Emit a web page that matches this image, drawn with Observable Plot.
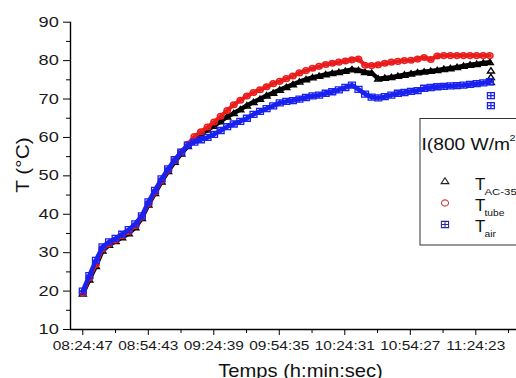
<!DOCTYPE html>
<html><head><meta charset="utf-8">
<script src="https://cdn.jsdelivr.net/npm/d3@7"></script>
<script src="https://cdn.jsdelivr.net/npm/@observablehq/plot@0.6"></script>
<style>body{margin:0;background:#fff;} #chart{width:516px;height:378px;overflow:hidden;position:relative;background:#fff}</style>
</head><body><div id="chart"></div>
<script>
// ---- data ----
const startTime = "08:24:47";
const minutes = [0,3,6,9,12,15,18,21,24,27,30,33,36,39,42,45,48,51,54,57,60,63,66,69,72,75,78,81,84,87,90,93,96,99,102,105,108,111,114,117,120,123,126,129,132,135,138,141,144,147,150,153,156,159,162,165,168,171,174,177,180,183,186];
const tAC35 = [19.3,23,26.5,30.5,32,33,34,35,36.6,39,42.5,45.5,48.5,51.2,53.6,55.8,57.7,59.3,60.8,62,63,64.2,65.4,66.3,67.3,68.3,69.2,70,70.9,71.6,72.4,73.1,73.8,74.5,75.1,75.6,76,76.4,76.7,77,77.3,77.7,77.5,77,76.8,75.3,75.5,75.7,76,76.3,76.6,76.9,77.1,77.3,77.5,77.8,78,78.3,78.6,78.9,79.1,79.4,79.6];
const tTube = [19.5,23.5,27,31,32.3,33.3,34.4,35.5,37,39.3,42.8,45.8,48.8,51.5,54,56.2,58.2,60.2,61.5,62.7,64,65.5,67,68.5,69.7,70.8,71.7,72.4,73.2,74,74.6,75.3,76,76.8,77.4,78,78.5,79,79.3,79.6,79.9,80.2,80.4,78.8,78.7,78.9,79.3,79.6,79.8,80,80.1,80.4,80.8,80.3,81.2,81.3,81.3,81.3,81.3,81.3,81.3,81.3,81.3];
const tAir = [20,24,28,31.5,32.8,33.7,34.8,36,37.5,39.6,43.2,46.2,49.2,51.8,54.2,56.2,58,58.8,59.4,60,60.8,61.8,62.8,63.5,64.2,65,66,66.8,67.5,68.2,69,69.4,69.6,70,70.4,70.8,71,71.5,71.9,72.4,73,73.6,72.5,71.3,70.5,70.3,70.6,71,71.5,71.7,72,72.2,72.8,73,73.2,73.3,73.4,73.5,73.6,73.8,74,74.2,74.5];
const endMinute = 186.5;
const tAC35End = [77.4, 75.7, 74.4];
const tAirEnd = [70.9, 68.3];
const xTickLabels = ["08:24:47","08:54:43","09:24:39","09:54:35","10:24:31","10:54:27","11:24:23"];
const yTicks = [10,20,30,40,50,60,70,80,90];
const yMinorTicks = [15,25,35,45,55,65,75,85];
const seriesSubs = ["AC-35","tube","air"];
const legendTitle = "I(800 W/m";
const xTitle = "Temps (h:min:sec)";
const yTitle = "T (°C)";

// ---- helpers ----
const toDate = hms => { const [h,m,s] = hms.split(":").map(Number); return new Date(Date.UTC(1970,0,1,h,m,s)); };
const start = toDate(startTime);
const atMin = m => new Date(+start + m*60000);
const rows = (vals, mins) => vals.map((v,i) => ({time: atMin(mins[i]), T: v}));
const lineAC = rows(tAC35, minutes), lineTube = rows(tTube, minutes), lineAir = rows(tAir, minutes);
const dataAC = lineAC.concat(tAC35End.map(v => ({time: atMin(endMinute), T: v})));
const dataTube = lineTube;
const dataAir = lineAir.concat(tAirEnd.map(v => ({time: atMin(endMinute), T: v})));
const majorTicks = xTickLabels.map(toDate);
const minorTicks = majorTicks.map(d => new Date(+d + 898000));
const xDomain = [new Date(+start - 337000), new Date(+start + 11892000)];

const triUp = {draw(ctx, size){ const s = Math.sqrt(size/Math.PI); ctx.moveTo(0,-s*1.05); ctx.lineTo(s*1.25,s*0.85); ctx.lineTo(-s*1.25,s*0.85); ctx.closePath(); }};
const ellipse = {draw(ctx, size){ const s = Math.sqrt(size/Math.PI), a = s*1.15, b = s, k = 0.5523;
  ctx.moveTo(a,0); ctx.bezierCurveTo(a,b*k,a*k,b,0,b); ctx.bezierCurveTo(-a*k,b,-a,b*k,-a,0);
  ctx.bezierCurveTo(-a,-b*k,-a*k,-b,0,-b); ctx.bezierCurveTo(a*k,-b,a,-b*k,a,0); ctx.closePath(); }};
const sqCross = {draw(ctx, size){ const s = Math.sqrt(size/Math.PI), a = s*1.15, b = s;
  ctx.moveTo(-a,-b); ctx.lineTo(a,-b); ctx.lineTo(a,b); ctx.lineTo(-a,b); ctx.closePath();
  ctx.moveTo(0,-b); ctx.lineTo(0,b); ctx.moveTo(-a,0); ctx.lineTo(a,0); }};

const RED = "#ea1c1c", BLUE = "#1a22f0", BLACK = "#000";
const fmt = d3.utcFormat("%H:%M:%S");

const plot = Plot.plot({
  width: 516, height: 378,
  marginLeft: 70, marginRight: 0, marginTop: 21.7, marginBottom: 49,
  style: {fontFamily: "'Liberation Sans', Arial, sans-serif", fontSize: "13px", color: "#1a1a1a", background: "#fff"},
  x: {type: "utc", domain: xDomain},
  y: {domain: [10, 90]},
  marks: [
    Plot.axisY(yTicks, {tickSize: 7, tickPadding: 4.7, fontSize: 14, label: null, stroke: BLACK}),
    Plot.axisY(yMinorTicks, {tickSize: 4, tickFormat: () => "", label: null, stroke: BLACK}),
    Plot.axisX(majorTicks, {tickSize: 6, tickPadding: 5, tickFormat: fmt, label: null, stroke: BLACK}),
    Plot.axisX(minorTicks, {tickSize: 4, tickFormat: () => "", label: null, stroke: BLACK}),
    Plot.ruleX([xDomain[0]], {stroke: BLACK, strokeWidth: 1.4}),
    Plot.ruleY([10], {stroke: BLACK, strokeWidth: 1.4}),
    Plot.line(lineAC, {x: "time", y: "T", stroke: BLACK, strokeWidth: 4.5}),
    Plot.dot(dataAC, {x: "time", y: "T", symbol: triUp, r: 2.8, stroke: BLACK, strokeWidth: 1.4, fill: "none"}),
    Plot.line(lineTube, {x: "time", y: "T", stroke: RED, strokeWidth: 4}),
    Plot.dot(dataTube, {x: "time", y: "T", symbol: ellipse, r: 2.8, stroke: RED, strokeWidth: 1.5, fill: "none"}),
    Plot.line(lineAir, {x: "time", y: "T", stroke: BLUE, strokeWidth: 4.5}),
    Plot.dot(dataAir, {x: "time", y: "T", symbol: sqCross, r: 3, stroke: BLUE, strokeWidth: 1.3, fill: "none"}),
    Plot.text([xTitle], {frameAnchor: "bottom", dx: 7, dy: 47.5, lineAnchor: "bottom", fontSize: 18, fill: "#111"}),
    Plot.text([yTitle], {frameAnchor: "left", dx: -47.5, dy: 17, rotate: -90, fontSize: 19, fill: "#111"})
  ]
});
document.getElementById("chart").appendChild(plot);

// horizontal stretch of text to match the reference's glyph proportions
const svg = d3.select(plot);
const stretch = (sel, k) => sel.each(function(){ const t = this.getAttribute("transform") || ""; this.setAttribute("transform", t + ` scale(${k},1)`); });
stretch(svg.selectAll('g[aria-label="x-axis tick label"] text'), 1.19);
stretch(svg.selectAll('g[aria-label="y-axis tick label"] text'), 1.3);
svg.selectAll('g[aria-label="text"] text').each(function(){
  const t = this.getAttribute("transform") || "";
  this.setAttribute("transform", t + (t.includes("rotate") ? " scale(1.1,1)" : " scale(1.12,1)"));
});

// legend (drawn on top of the plot, clipped at the right edge like the reference)
const lg = svg.append("g").attr("class", "legend").attr("font-family", "'Liberation Sans', Arial, sans-serif").attr("fill", "#111").attr("text-anchor", "start");
lg.append("rect").attr("x", 420).attr("y", 118.5).attr("width", 120).attr("height", 126.5).attr("fill", "#fff").attr("stroke", "#333").attr("stroke-width", 1);
lg.append("text").attr("transform", "translate(421.5,150) scale(1.2,1)").attr("font-size", 16).text(legendTitle);
lg.append("text").attr("transform", "translate(509.5,141) scale(1.2,1)").attr("font-size", 9).text("2");
lg.append("text").attr("transform", "translate(516,150) scale(1.2,1)").attr("font-size", 16).text(")");
const legendSyms = [[triUp, "#222", 181], [ellipse, "#c44", 203], [sqCross, "#2a2a9a", 224.5]];
legendSyms.forEach(([sym, col, cy], i) => {
  const p = d3.path(); sym.draw(p, Math.PI*3.1*3.1);
  lg.append("path").attr("d", p.toString()).attr("transform", `translate(445,${cy})`).attr("fill", "none").attr("stroke", col).attr("stroke-width", 1.1);
  const base = 190 + i*21;
  lg.append("text").attr("x", 475).attr("y", base).attr("font-size", 17).text("T");
  lg.append("text").attr("transform", `translate(484.5,${base+5}) scale(1.2,1)`).attr("font-size", i === 0 ? 9.5 : 8.5).text(seriesSubs[i]);
});
</script></body></html>
